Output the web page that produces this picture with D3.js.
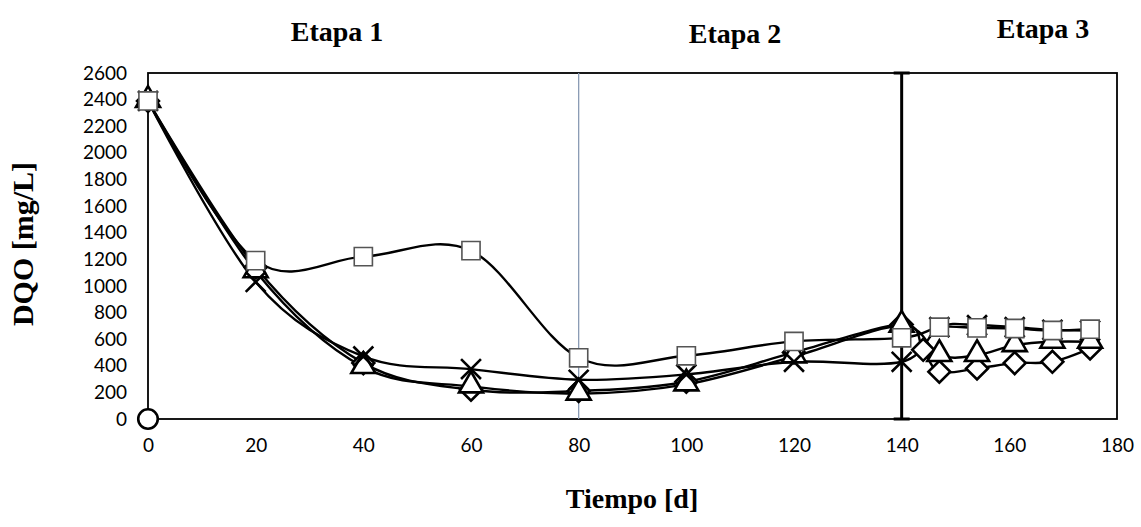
<!DOCTYPE html>
<html>
<head>
<meta charset="utf-8">
<script src="https://cdn.jsdelivr.net/npm/d3@7"></script>
<style>
  body { margin: 0; background: #fff; }
  .tick text { font-family: Lato, "Open Sans", sans-serif; font-size: 19px; fill: #000; }
  .etapa { font-family: "Liberation Serif", serif; font-weight: bold; font-size: 28px; }
</style>
</head>
<body>
<svg id="chart" width="1141" height="527"></svg>
<script>
'use strict';

// days sampled in each series
var daysSquare = [0, 20, 40, 60, 80, 100, 120, 140, 147, 154, 161, 168, 175];
var daysTriangle = [0, 20, 40, 60, 80, 100, 120, 140, 147, 154, 161, 168, 175];
var daysCross = [0, 20, 40, 60, 80, 100, 120, 140, 147, 154, 161, 168, 175];
var daysDiamond = [0, 20, 40, 60, 80, 100, 120, 140, 144, 147, 154, 161, 168, 175];
var daysCircle = [0];

// DQO values [mg/L]
var dqoSquare = [2390, 1190, 1220, 1265, 460, 475, 583, 610, 690, 685, 680, 665, 675];
var dqoTriangle = [2390, 1110, 390, 245, 190, 260, 470, 700, 480, 480, 555, 580, 580];
var dqoCross = [2390, 1030, 470, 375, 295, 335, 430, 430, 690, 705, 690, 670, 665];
var dqoDiamond = [2390, 1140, 420, 220, 210, 280, 500, 710, 520, 355, 380, 420, 430, 530];
var dqoCircle = [0];

var xTicks = [0, 20, 40, 60, 80, 100, 120, 140, 160, 180];
var yTicks = d3.range(0, 2601, 200);
var stages = [{label: 'Etapa 1', x: 337, y: 41}, {label: 'Etapa 2', x: 735, y: 43}, {label: 'Etapa 3', x: 1043, y: 38}];

var svg = d3.select('#chart');
var x = d3.scaleLinear().domain([0, 180]).range([148, 1117]);
var y = d3.scaleLinear().domain([0, 2600]).range([419, 73]);

// axes
svg.append('g')
  .attr('transform', 'translate(0,' + y(0) + ')')
  .call(d3.axisBottom(x).tickValues(xTicks).tickFormat(d3.format('d')).tickSize(0).tickPadding(20))
  .call(function(g){ g.select('.domain').remove(); });

svg.append('g')
  .attr('transform', 'translate(' + x(0) + ',0)')
  .call(d3.axisLeft(y).tickValues(yTicks).tickFormat(d3.format('d')).tickSize(0).tickPadding(21))
  .call(function(g){ g.select('.domain').remove(); });

// plot frame
svg.append('rect')
  .attr('x', x(0)).attr('y', y(2600))
  .attr('width', x(180) - x(0)).attr('height', y(0) - y(2600))
  .attr('fill', 'none').attr('stroke', '#000').attr('stroke-width', 1.8);

// stage separators
svg.append('line')
  .attr('x1', x(80)).attr('x2', x(80)).attr('y1', y(2600)).attr('y2', y(0))
  .attr('stroke', '#8a9bb4').attr('stroke-width', 1.3);

var sep = svg.append('g').attr('stroke', '#000').attr('stroke-width', 3);
sep.append('line').attr('x1', x(140)).attr('x2', x(140)).attr('y1', y(2600)).attr('y2', y(0));
sep.append('line').attr('x1', x(140) - 8).attr('x2', x(140) + 8).attr('y1', y(2600)).attr('y2', y(2600));
sep.append('line').attr('x1', x(140) - 8).attr('x2', x(140) + 8).attr('y1', y(0)).attr('y2', y(0));

var series = [
  {name: 'circle', days: daysCircle, vals: dqoCircle},
  {name: 'diamond', days: daysDiamond, vals: dqoDiamond},
  {name: 'triangle', days: daysTriangle, vals: dqoTriangle},
  {name: 'cross', days: daysCross, vals: dqoCross},
  {name: 'square', days: daysSquare, vals: dqoSquare}
];

var line = d3.line()
  .x(function(d){ return x(d[0]); })
  .y(function(d){ return y(d[1]); })
  .curve(d3.curveCardinal.tension(0));

series.forEach(function(s){
  s.pts = s.days.map(function(d, i){ return [d, s.vals[i]]; });
  if(s.pts.length > 1){
    svg.append('path')
      .attr('d', line(s.pts))
      .attr('fill', 'none').attr('stroke', '#000').attr('stroke-width', 2.4);
  }
});

var symbolFor = {
  circle: d3.symbol(d3.symbolCircle, 300),
  diamond: d3.symbol(d3.symbolSquare, 240),
  triangle: d3.symbol(d3.symbolTriangle, 250),
  cross: d3.symbol(d3.symbolX, 260),
  square: d3.symbol(d3.symbolSquare, 330)
};

series.forEach(function(s){
  var g = svg.append('g').attr('class', 'marks-' + s.name);
  g.selectAll('path').data(s.pts).enter().append('path')
    .attr('transform', function(d){
      var rot = s.name === 'diamond' ? ' rotate(45)' : '';
      var dy = s.name === 'triangle' ? -1 : 0;
      return 'translate(' + x(d[0]) + ',' + (y(d[1]) + dy) + ')' + rot;
    })
    .attr('d', symbolFor[s.name]())
    .attr('fill', s.name === 'cross' ? 'none' : '#fff')
    .attr('stroke', s.name === 'square' ? '#555' : '#000')
    .attr('stroke-width', s.name === 'square' ? 1.6 : 2.6);
});

// stage labels
svg.selectAll('.etapa').data(stages).enter().append('text')
  .attr('class', 'etapa')
  .attr('x', function(d){ return d.x; })
  .attr('y', function(d){ return d.y; })
  .attr('text-anchor', 'middle')
  .text(function(d){ return d.label; });

// axis titles
svg.append('text')
  .attr('x', 632).attr('y', 508)
  .attr('text-anchor', 'middle')
  .attr('class', 'etapa')
  .text('Tiempo [d]');

svg.append('text')
  .attr('transform', 'translate(33,244) rotate(-90)')
  .attr('text-anchor', 'middle')
  .attr('class', 'etapa')
  .style('font-size', '30px')
  .text('DQO [mg/L]');
</script>
</body>
</html>
